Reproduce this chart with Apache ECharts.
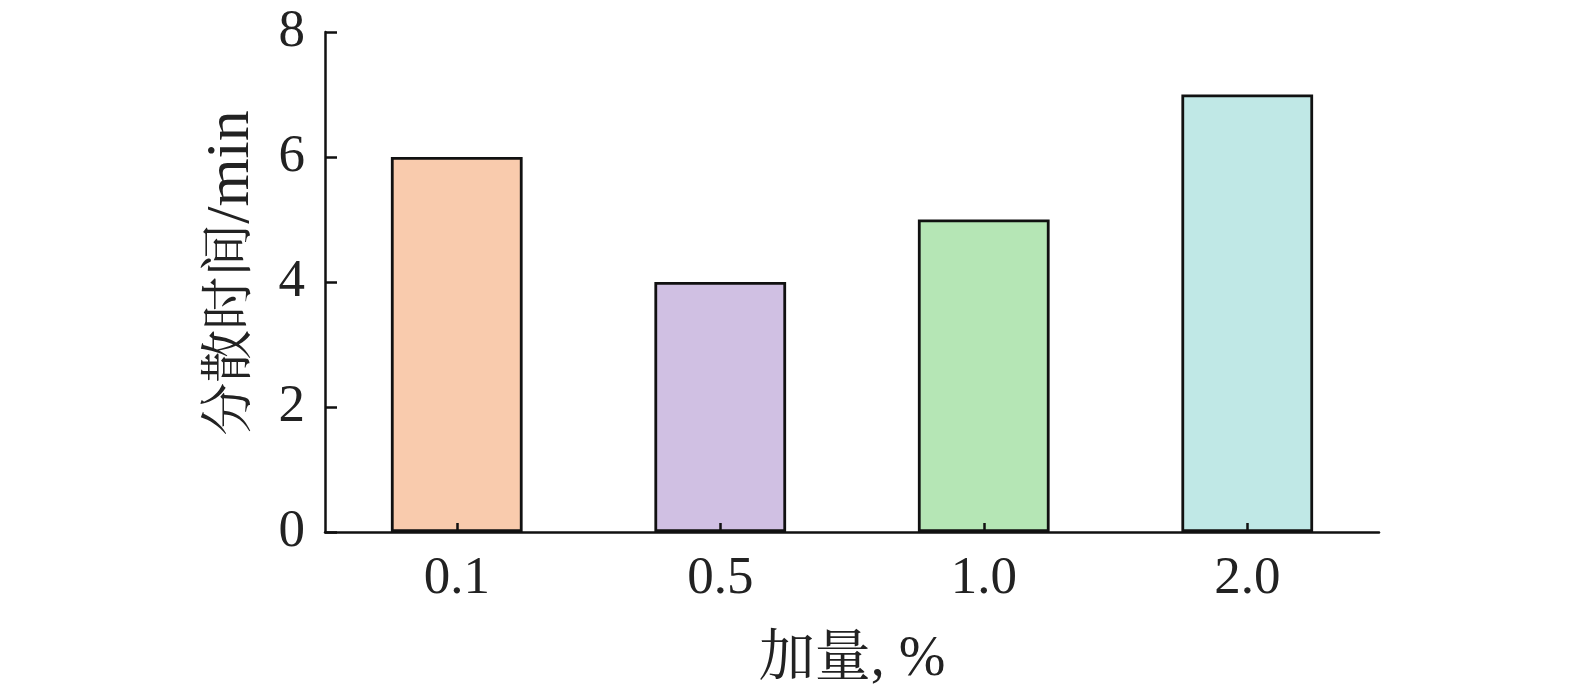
<!DOCTYPE html>
<html><head><meta charset="utf-8">
<script src="https://cdn.jsdelivr.net/npm/echarts@6/dist/echarts.min.js"></script>
<style>html,body{margin:0;padding:0;background:#fff;overflow:hidden}#c{width:1575px;height:689px}</style>
</head><body><div id="c"></div>
<script>
const categories = ['0.1', '0.5', '1.0', '2.0'];
const values = [6, 4, 5, 7];
const barColors = ['#F9CBAD', '#D0C0E3', '#B5E6B5', '#C0E8E6'];
const yTicks = { min: 0, max: 8, interval: 2 };
const xName = '加量, %';
const yNameCJK = '分散时间';
const yNameUnit = '/min';

const font = '"Liberation Serif", "Times New Roman", "Noto Serif CJK SC", "Noto Sans CJK SC", serif';
const chart = echarts.init(document.getElementById('c'));
chart.setOption({
  animation: false,
  backgroundColor: '#fff',
  grid: { left: 325, top: 32, width: 1054, height: 500, outerBoundsMode: 'none', containLabel: false },
  xAxis: {
    type: 'category', data: categories, z: 5,
    name: xName, nameLocation: 'middle', nameGap: 100,
    nameTextStyle: { fontFamily: font, fontSize: 56, color: '#222' },
    axisLine: { lineStyle: { color: '#111', width: 2.5 } },
    axisTick: { show: true, inside: true, alignWithLabel: true, length: 9, lineStyle: { color: '#111', width: 2.5 } },
    axisLabel: { fontFamily: font, fontSize: 53, color: '#222', margin: 21 }
  },
  yAxis: {
    type: 'value', min: yTicks.min, max: yTicks.max, interval: yTicks.interval,
    name: '{c|' + yNameCJK + '}{l|' + yNameUnit + '}', nameLocation: 'middle', nameGap: 62,
    nameTextStyle: {
      fontFamily: font, color: '#222', padding: [0, 0, 0, 18],
      rich: {
        c: { fontFamily: font, fontSize: 53, color: '#222' },
        l: { fontFamily: font, fontSize: 62, color: '#222' }
      }
    },
    axisLine: { show: true, lineStyle: { color: '#111', width: 2.5 } },
    axisTick: { show: true, inside: true, length: 12, lineStyle: { color: '#111', width: 2.5 } },
    axisLabel: { fontFamily: font, fontSize: 53, color: '#222', margin: 20, padding: [0, 0, 6, 0] },
    splitLine: { show: false }
  },
  series: [{
    type: 'bar', barWidth: '50%',
    data: values.map((v, i) => ({ value: v, itemStyle: { color: barColors[i] } })),
    itemStyle: { borderColor: '#111', borderWidth: 2.8 }
  }]
});
</script></body></html>
